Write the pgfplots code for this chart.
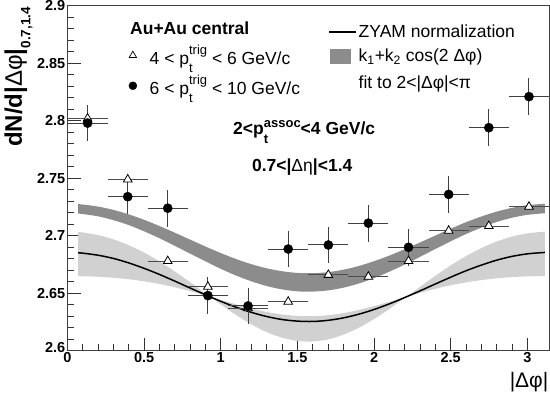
\documentclass[border=0pt]{standalone}
\usepackage{fontspec}
\setmainfont{Liberation Sans}
\usepackage{pgfplots}
\pgfplotsset{compat=1.18}
\usepgfplotslibrary{fillbetween}
\newcommand{\fs}[1]{\fontsize{#1}{#1}\selectfont}
% p_t^{#1}: #2 raise of superscript, #3 lowering of subscript
\newcommand{\ptx}[3]{p\rlap{\raisebox{-#3}{\fs{13bp}t}}\raisebox{#2}{\fs{13bp}#1}}
\begin{document}
\begin{tikzpicture}
\begin{axis}[
  at={(0,0)}, anchor=south west,
  width=481.5bp, height=345bp, scale only axis,
  xmin=0, xmax=3.1416, ymin=2.6, ymax=2.9,
  xtick={0,0.5,1,1.5,2,2.5,3}, xticklabels={0,0.5,1,1.5,2,2.5,3},
  ytick={2.6,2.65,2.7,2.75,2.8,2.85,2.9},
  yticklabels={\raisebox{6bp}{2.6},2.65,2.7,2.75,2.8,2.85,2.9},
  minor x tick num=4, minor y tick num=4,
  tick align=inside, xtick pos=bottom, ytick pos=left,
  major tick length=13bp, minor tick length=6.5bp,
  tick style={black!80, line width=0.8bp},
  axis line style={black!75, line width=1bp},
  ticklabel style={font=\fs{14.5bp}\bfseries},
  xticklabel style={inner sep=1.5bp},
  yticklabel style={inner sep=2bp},
  legend style={at={(0.125,0.888)}, anchor=north west, draw=none, fill=none,
    inner sep=0pt, row sep=9bp, column sep=11.8bp, font=\fs{17.5bp},
    nodes={inner sep=0pt}},
  legend cell align=left,
]
% light band around ZYAM
\addplot[name path=A, draw=none, forget plot, smooth] coordinates {
(0.07,2.7032)(0.1,2.7029)(0.2,2.7006)(0.3,2.6969)(0.4,2.6918)(0.5,2.6854)(0.6,2.6777)(0.7,2.6690)(0.8,2.6597)(0.9,2.6499)(1.0,2.6403)(1.1,2.6311)(1.2,2.6230)(1.3,2.6162)(1.4,2.6114)(1.5,2.6086)(1.6,2.6081)(1.7,2.6099)(1.8,2.6140)(1.9,2.6200)(2.0,2.6276)(2.1,2.6364)(2.2,2.6459)(2.3,2.6556)(2.4,2.6652)(2.5,2.6742)(2.6,2.6823)(2.7,2.6893)(2.8,2.6950)(2.9,2.6993)(3.0,2.7021)(3.1,2.7035)(3.115,2.7035)};
\addplot[name path=B, draw=none, forget plot, smooth] coordinates {
(0.07,2.6649)(0.1,2.6648)(0.2,2.6644)(0.3,2.6635)(0.4,2.6622)(0.5,2.6604)(0.6,2.6581)(0.7,2.6552)(0.8,2.6519)(0.9,2.6482)(1.0,2.6443)(1.1,2.6404)(1.2,2.6368)(1.3,2.6338)(1.4,2.6316)(1.5,2.6303)(1.6,2.6301)(1.7,2.6309)(1.8,2.6328)(1.9,2.6355)(2.0,2.6389)(2.1,2.6426)(2.2,2.6465)(2.3,2.6504)(2.4,2.6539)(2.5,2.6570)(2.6,2.6595)(2.7,2.6615)(2.8,2.6630)(2.9,2.6641)(3.0,2.6647)(3.1,2.6650)(3.115,2.6650)};
\addplot[black!18, forget plot] fill between[of=A and B];
% dark band k1+k2 cos
\addplot[name path=Du, draw=none, forget plot, smooth] coordinates {
(0.07,2.7275)(0.1,2.7272)(0.2,2.7254)(0.3,2.7225)(0.4,2.7186)(0.5,2.7139)(0.6,2.7085)(0.7,2.7027)(0.8,2.6967)(0.9,2.6907)(1.0,2.6850)(1.1,2.6798)(1.2,2.6753)(1.3,2.6717)(1.4,2.6692)(1.5,2.6677)(1.6,2.6675)(1.7,2.6684)(1.8,2.6705)(1.9,2.6737)(2.0,2.6779)(2.1,2.6828)(2.2,2.6883)(2.3,2.6942)(2.4,2.7002)(2.5,2.7062)(2.6,2.7118)(2.7,2.7168)(2.8,2.7210)(2.9,2.7243)(3.0,2.7266)(3.1,2.7277)(3.115,2.7278)};
\addplot[name path=Dl, draw=none, forget plot, smooth] coordinates {
(0.07,2.7193)(0.1,2.7189)(0.2,2.7169)(0.3,2.7136)(0.4,2.7093)(0.5,2.7039)(0.6,2.6979)(0.7,2.6913)(0.8,2.6845)(0.9,2.6778)(1.0,2.6713)(1.1,2.6654)(1.2,2.6604)(1.3,2.6563)(1.4,2.6534)(1.5,2.6517)(1.6,2.6515)(1.7,2.6525)(1.8,2.6549)(1.9,2.6585)(2.0,2.6632)(2.1,2.6688)(2.2,2.6750)(2.3,2.6817)(2.4,2.6885)(2.5,2.6952)(2.6,2.7015)(2.7,2.7071)(2.8,2.7120)(2.9,2.7157)(3.0,2.7182)(3.1,2.7195)(3.115,2.7195)};
\addplot[black!45, forget plot] fill between[of=Du and Dl];
% ZYAM line
\addplot[black, line width=1.5bp, smooth, forget plot] coordinates {
(0.07,2.6852)(0.1,2.6849)(0.2,2.6831)(0.3,2.6803)(0.4,2.6764)(0.5,2.6717)(0.6,2.6664)(0.7,2.6606)(0.8,2.6546)(0.9,2.6487)(1.0,2.6430)(1.1,2.6379)(1.2,2.6334)(1.3,2.6298)(1.4,2.6272)(1.5,2.6258)(1.6,2.6255)(1.7,2.6265)(1.8,2.6286)(1.9,2.6318)(2.0,2.6359)(2.1,2.6408)(2.2,2.6463)(2.3,2.6521)(2.4,2.6581)(2.5,2.6640)(2.6,2.6696)(2.7,2.6745)(2.8,2.6788)(2.9,2.6821)(3.0,2.6843)(3.1,2.6854)(3.115,2.6855)};
% triangles 4<pt<6
\addplot[forget plot, only marks, mark=triangle*, mark size=5bp,
  mark options={fill=white, draw=black, line width=0.8bp},
  error bars/.cd, x dir=both, x explicit, error mark=none,
  error bar style={black!70, line width=0.9bp}] coordinates {
(0.131,2.802) +- (0.131,0)
(0.393,2.749) +- (0.131,0)
(0.654,2.678) +- (0.131,0)
(0.916,2.6557) +- (0.131,0)
(1.178,2.637) +- (0.131,0)
(1.440,2.6427) +- (0.131,0)
(1.702,2.666) +- (0.131,0)
(1.963,2.6644) +- (0.131,0)
(2.225,2.678) +- (0.131,0)
(2.487,2.7044) +- (0.131,0)
(2.749,2.7085) +- (0.131,0)
(3.011,2.7253) +- (0.131,0)};
% circles 6<pt<10
\addplot[forget plot, only marks, mark=*, mark size=4.6bp, black,
  error bars/.cd, x dir=both, x explicit, y dir=both, y explicit, error mark=none,
  error bar style={black!75, line width=1bp}] coordinates {
(0.131,2.798) +- (0.131,0.016)
(0.393,2.734) +- (0.131,0.015)
(0.654,2.724) +- (0.131,0.016)
(0.916,2.648) +- (0.131,0.016)
(1.178,2.639) +- (0.131,0.016)
(1.440,2.6885) +- (0.131,0.016)
(1.702,2.692) +- (0.131,0.016)
(1.963,2.711) +- (0.131,0.016)
(2.225,2.690) +- (0.131,0.016)
(2.487,2.736) +- (0.131,0.016)
(2.749,2.794) +- (0.131,0.016)
(3.011,2.821) +- (0.131,0.016)};
\addlegendimage{legend image code/.code={\path[draw=none, fill=none] (0bp,-5bp) rectangle (10bp,5bp);
  \draw[only marks, mark=triangle*, mark size=4.2bp, mark options={fill=white, draw=black, line width=0.7bp}] plot coordinates {(5bp,0bp)};}}
\addlegendentry{4 < \ptx{trig}{10.5bp}{7.5bp} < 6 GeV/c}
\addlegendimage{legend image code/.code={\path[draw=none, fill=none] (0bp,-5bp) rectangle (10bp,5bp);
  \draw[only marks, mark=*, mark size=4bp, black] plot coordinates {(5bp,0bp)};}}
\addlegendentry{6 < \ptx{trig}{10.5bp}{7.5bp} < 10 GeV/c}
\end{axis}
\begin{axis}[
  at={(0,0)}, anchor=south west,
  width=481.5bp, height=345bp, scale only axis, hide axis,
  xmin=0, xmax=1, ymin=0, ymax=1,
  legend style={at={(0.541,0.9458)}, anchor=north west, draw=none, fill=none,
    inner sep=0pt, row sep=10bp, column sep=2bp, font=\fs{17.5bp},
    nodes={inner sep=0pt}},
  legend cell align=left,
]
\addlegendimage{legend image code/.code={\path[draw=none, fill=none] (0bp,-3bp) rectangle (27bp,3bp); \draw[black, line width=1.5bp] (0bp,0bp) -- (27bp,0bp);}}
\addlegendentry{ZYAM normalization}
\addlegendimage{legend image code/.code={\path[draw=none, fill=none] (0bp,-7.5bp) rectangle (27bp,7.5bp); \fill[black!45, draw=none] (1bp,-7.5bp) rectangle (22bp,7.5bp);}}
\addlegendentry{k\textsubscript{1}+k\textsubscript{2} cos(2 Δφ)}
\addlegendimage{empty legend}
\addlegendentry{\rule{0pt}{14.5bp}fit to 2<|Δφ|<π}
\end{axis}
\node[anchor=base west, font=\fs{17.5bp}\bfseries, inner sep=0pt] at (62.5bp,315.8bp) {Au+Au central};
\node[anchor=base, font=\fs{17.5bp}\bfseries, inner sep=0pt] at (236.7bp,215.8bp) {2<\ptx{assoc}{7.7bp}{8.3bp}<4 GeV/c};
\node[anchor=base, font=\fs{17.5bp}\bfseries, inner sep=0pt] at (234.7bp,179.1bp) {0.7<|{\mdseries Δη}|<1.4};
\node[rotate=90, anchor=base east, font=\fs{24bp}\bfseries, inner sep=0pt] at (-45.5bp,343.8bp) {dN/d|{\mdseries Δφ}|\raisebox{-8.5bp}{\fs{13.5bp}0.7,1.4}};
\node[anchor=north east, font=\fs{21bp}, inner sep=0pt] at (481bp,-21bp) {|Δφ|};
\pgfresetboundingbox
\path (-67.5bp,-43.2bp) rectangle (482.5bp,350.8bp);
\end{tikzpicture}
\end{document}
